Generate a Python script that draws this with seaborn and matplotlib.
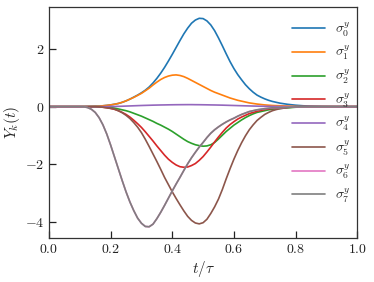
import numpy as np
import pandas as pd
import matplotlib
matplotlib.use("Agg")
import matplotlib.pyplot as plt
import seaborn as sns

# time grid t/tau (step 0.0125, 81 points)
t = [round(0.0125 * i, 4) for i in range(81)]

sigma0 = [0, 0, 0, 0, 0, 0, 0, 0, 0, 0,
          0.003, 0.006, 0.01, 0.018, 0.03, 0.043, 0.06, 0.083, 0.11, 0.15,
          0.20, 0.26, 0.33, 0.40, 0.48, 0.57, 0.68, 0.82, 0.98, 1.16,
          1.36, 1.58, 1.81, 2.05, 2.29, 2.52, 2.72, 2.89, 3.00, 3.06,
          3.05, 2.97, 2.83, 2.63, 2.38, 2.11, 1.83, 1.56, 1.32, 1.11,
          0.93, 0.76, 0.62, 0.50, 0.40, 0.33, 0.27, 0.22, 0.18, 0.15,
          0.12, 0.10, 0.08, 0.065, 0.05, 0.04, 0.03, 0.025, 0.02, 0.015,
          0.01, 0.007, 0.005, 0.003, 0.002, 0.001, 0, 0, 0, 0,
          0]
sigma1 = [0, 0, 0, 0, 0, 0, 0, 0, 0, 0,
          0.003, 0.006, 0.01, 0.018, 0.03, 0.043, 0.06, 0.083, 0.11, 0.15,
          0.20, 0.26, 0.32, 0.39, 0.46, 0.55, 0.64, 0.75, 0.85, 0.94,
          1.01, 1.06, 1.09, 1.10, 1.08, 1.04, 0.98, 0.91, 0.84, 0.77,
          0.70, 0.63, 0.56, 0.50, 0.45, 0.40, 0.35, 0.30, 0.26, 0.22,
          0.19, 0.16, 0.13, 0.11, 0.09, 0.075, 0.06, 0.05, 0.04, 0.035,
          0.03, 0.025, 0.02, 0.015, 0.01, 0.007, 0.005, 0.003, 0.002, 0.001,
          0, 0, 0, 0, 0, 0, 0, 0, 0, 0,
          0]
sigma2 = [0, 0, 0, 0, 0, 0, 0, 0, 0, 0,
          0, 0, 0, -0.003, -0.01, -0.018, -0.03, -0.05, -0.08, -0.11,
          -0.14, -0.18, -0.23, -0.28, -0.33, -0.39, -0.45, -0.51, -0.58, -0.64,
          -0.71, -0.78, -0.86, -0.95, -1.04, -1.13, -1.21, -1.27, -1.32, -1.35,
          -1.37, -1.36, -1.32, -1.24, -1.12, -0.99, -0.86, -0.75, -0.64, -0.55,
          -0.46, -0.38, -0.31, -0.25, -0.20, -0.17, -0.14, -0.11, -0.09, -0.075,
          -0.06, -0.05, -0.04, -0.03, -0.02, -0.015, -0.01, -0.007, -0.004, -0.002,
          0, 0, 0, 0, 0, 0, 0, 0, 0, 0,
          0]
sigma3 = [0, 0, 0, 0, 0, 0, 0, 0, 0, 0,
          0, 0, 0, -0.008, -0.02, -0.04, -0.06, -0.09, -0.14, -0.20,
          -0.27, -0.36, -0.47, -0.59, -0.72, -0.87, -1.03, -1.19, -1.36, -1.52,
          -1.68, -1.82, -1.93, -2.02, -2.08, -2.10, -2.09, -2.04, -1.97, -1.86,
          -1.73, -1.57, -1.40, -1.22, -1.05, -0.89, -0.74, -0.62, -0.52, -0.43,
          -0.36, -0.30, -0.24, -0.20, -0.16, -0.13, -0.10, -0.08, -0.06, -0.05,
          -0.04, -0.03, -0.02, -0.015, -0.01, -0.007, -0.004, -0.002, 0, 0,
          0, 0, 0, 0, 0, 0, 0, 0, 0, 0,
          0]
sigma4 = [0, 0, 0, 0, 0, 0, 0, 0, 0, 0,
          0, 0, 0, 0.001, 0.002, 0.003, 0.005, 0.007, 0.01, 0.015,
          0.02, 0.025, 0.03, 0.035, 0.04, 0.044, 0.048, 0.052, 0.055, 0.058,
          0.06, 0.063, 0.065, 0.067, 0.068, 0.069, 0.07, 0.07, 0.068, 0.067,
          0.065, 0.063, 0.06, 0.058, 0.055, 0.052, 0.048, 0.044, 0.04, 0.036,
          0.032, 0.028, 0.025, 0.021, 0.018, 0.015, 0.012, 0.01, 0.008, 0.006,
          0.005, 0.003, 0.002, 0.001, 0, 0, 0, 0, 0, 0,
          0, 0, 0, 0, 0, 0, 0, 0, 0, 0,
          0]
sigma5 = [0, 0, 0, 0, 0, 0, 0, 0, 0, 0,
          0, 0, 0, -0.008, -0.02, -0.04, -0.06, -0.09, -0.14, -0.21,
          -0.30, -0.41, -0.55, -0.71, -0.90, -1.13, -1.38, -1.64, -1.90, -2.17,
          -2.45, -2.70, -2.95, -3.18, -3.40, -3.61, -3.80, -3.94, -4.03, -4.06,
          -4.02, -3.90, -3.70, -3.47, -3.20, -2.87, -2.50, -2.15, -1.82, -1.52,
          -1.25, -1.01, -0.80, -0.63, -0.48, -0.37, -0.27, -0.20, -0.14, -0.10,
          -0.07, -0.05, -0.03, -0.02, -0.01, -0.006, -0.003, -0.001, 0, 0,
          0, 0, 0, 0, 0, 0, 0, 0, 0, 0,
          0]
sigma7 = [0, 0, 0, 0, 0, 0, 0, 0, 0, -0.005,
          -0.03, -0.09, -0.20, -0.38, -0.63, -0.95, -1.33, -1.74, -2.15, -2.56,
          -2.95, -3.30, -3.60, -3.86, -4.04, -4.15, -4.16, -4.07, -3.88, -3.66,
          -3.42, -3.17, -2.92, -2.68, -2.45, -2.21, -1.98, -1.77, -1.58, -1.40,
          -1.24, -1.07, -0.92, -0.80, -0.70, -0.61, -0.53, -0.46, -0.40, -0.33,
          -0.27, -0.22, -0.17, -0.14, -0.11, -0.09, -0.07, -0.055, -0.04, -0.035,
          -0.03, -0.025, -0.02, -0.015, -0.01, -0.007, -0.004, -0.002, 0, 0,
          0, 0, 0, 0, 0, 0, 0, 0, 0, 0,
          0]
# sigma6 is hidden underneath sigma7 in the picture
sigma6 = list(sigma7)

series = [sigma0, sigma1, sigma2, sigma3, sigma4, sigma5, sigma6, sigma7]
labels = [r"$\sigma_{%d}^{y}$" % k for k in range(8)]
xticks = [0.0, 0.2, 0.4, 0.6, 0.8, 1.0]
yticks = [-4, -2, 0, 2]

sns.set_style("ticks")
plt.rcParams["font.family"] = "serif"
plt.rcParams["font.serif"] = ["cmr10", "DejaVu Serif"]
plt.rcParams["mathtext.fontset"] = "cm"
plt.rcParams["axes.formatter.use_mathtext"] = True
plt.rcParams["axes.unicode_minus"] = True

fig = plt.figure(figsize=(3.74, 2.82), dpi=100)
ax = fig.add_axes([0.131, 0.156, 0.824, 0.819])

palette = sns.color_palette("tab10", 8)
for k, (vals, lab) in enumerate(zip(series, labels)):
    df = pd.DataFrame({"t": t, "y": vals})
    sns.lineplot(data=df, x="t", y="y", ax=ax, color=palette[k], label=lab, linewidth=1.2)

ax.set_xlim(0, 1)
ax.set_ylim(-4.55, 3.45)
ax.set_xticks(xticks)
ax.set_yticks(yticks)
ax.set_xticklabels(["$%.1f$" % v for v in xticks])
ax.set_yticklabels(["$%d$" % v for v in yticks])
ax.tick_params(direction="in", length=5, width=0.9, labelsize=10, colors="#222222",
               top=False, right=False)
for sp in ax.spines.values():
    sp.set_linewidth(0.9)
    sp.set_color("#333333")
ax.set_xlabel(r"$t/\tau$", fontsize=11, labelpad=2)
ax.set_ylabel(r"$Y_k(t)$", fontsize=11, labelpad=2)

ax.legend(loc="upper right", bbox_to_anchor=(1.006, 0.978), frameon=False, fontsize=10,
          handlelength=2.4, handletextpad=0.7, labelspacing=0.38, borderaxespad=0.2)

fig.savefig("out.png", dpi=100)
